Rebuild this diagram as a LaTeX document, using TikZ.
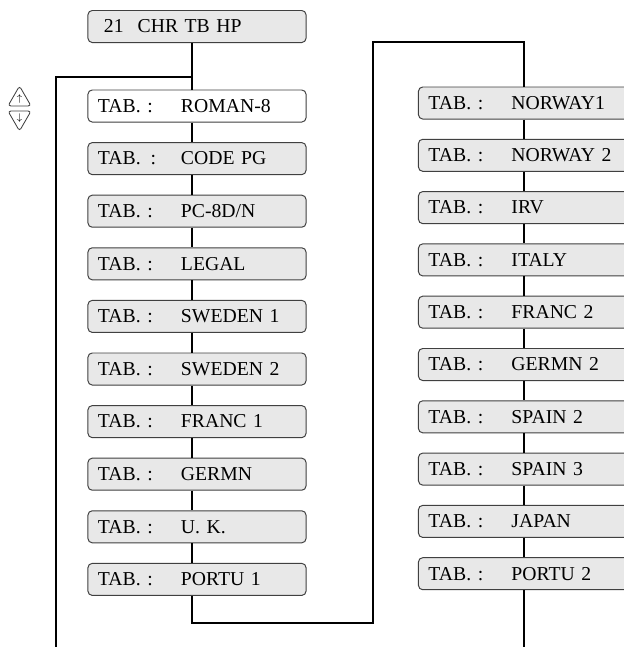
\documentclass[tikz,border=0pt]{standalone}
\usepackage{fontspec}
\setmainfont{Liberation Serif}
\usepackage{xcolor}
\usepackage{tikz}
\usetikzlibrary{shapes.geometric}
\definecolor{keygray}{gray}{0.25}
\definecolor{boxgray}{gray}{0.91}
\newcommand{\tabentry}[2][TAB. :]{\makebox[2.075cm][l]{#1}#2}

\begin{document}
\begin{tikzpicture}[x=0.025cm,y=-0.025cm,
    menubox/.style={rectangle,rounded corners=3pt,draw=keygray,line width=0.7pt,fill=boxgray,
      text width=4.95cm,inner xsep=0.25cm,inner ysep=0pt,minimum height=0.8cm,align=left,
      font=\fontsize{14}{16}\selectfont},
    link/.style={line width=1.6pt,draw=black},
    keytri/.style={regular polygon,regular polygon sides=3,draw=keygray,line width=0.6pt,
      rounded corners=2pt,minimum size=0.665cm,inner sep=0pt,font=\scriptsize}]
        \clip (0,0) rectangle (624,647);
        % menu title and the two columns of tables
        \node[menubox] (hdr) at (197,26.5) {\hspace{0.15cm}21\hspace{0.35cm}CHR TB HP};
        \node[menubox,fill=white] (l1) at (197,106) {\tabentry{ROMAN-8}};
        \node[menubox] (l2) at (197,158.6) {\tabentry[TAB.\enspace:]{CODE PG}};
        \node[menubox] (l3) at (197,211.2) {\tabentry{PC-8D/N}};
        \node[menubox] (l4) at (197,263.8) {\tabentry{LEGAL}};
        \node[menubox] (l5) at (197,316.4) {\tabentry{SWEDEN 1}};
        \node[menubox] (l6) at (197,369) {\tabentry{SWEDEN 2}};
        \node[menubox] (l7) at (197,421.6) {\tabentry{FRANC 1}};
        \node[menubox] (l8) at (197,474.2) {\tabentry{GERMN}};
        \node[menubox] (l9) at (197,526.8) {\tabentry{U. K.}};
        \node[menubox] (l10) at (197,579.4) {\tabentry{PORTU 1}};
        \node[menubox] (r1) at (527.5,103) {\tabentry{NORWAY1}};
        \node[menubox] (r2) at (527.5,155.3) {\tabentry{NORWAY 2}};
        \node[menubox] (r3) at (527.5,207.6) {\tabentry{IRV}};
        \node[menubox] (r4) at (527.5,259.9) {\tabentry{ITALY}};
        \node[menubox] (r5) at (527.5,312.2) {\tabentry{FRANC 2}};
        \node[menubox] (r6) at (527.5,364.5) {\tabentry{GERMN 2}};
        \node[menubox] (r7) at (527.5,416.8) {\tabentry{SPAIN 2}};
        \node[menubox] (r8) at (527.5,469.1) {\tabentry{SPAIN 3}};
        \node[menubox] (r9) at (527.5,521.4) {\tabentry{JAPAN}};
        \node[menubox] (r10) at (527.5,573.7) {\tabentry{PORTU 2}};
        % up / down keys
        \node[keytri] (up) at (19.5,99.3) {$\uparrow$};
        \node[keytri,shape border rotate=180] (down) at (19.5,117.7) {$\downarrow$};
        % bends of the wiring
        \coordinate (lj) at (192,77);
        \coordinate (lc) at (56,77);
        \coordinate (lend) at (56,647);
        \coordinate (lb) at (192,623);
        \coordinate (rb) at (373,623);
        \coordinate (rt) at (373,42);
        \coordinate (ru) at (524,42);
        \coordinate (rend) at (524,647);
        \draw[link] (hdr.south -| lj) -- (l1.north -| lj);
        \draw[link] (lj) -- (lc) -- (lend);
        \foreach \a/\b in {1/2,2/3,3/4,4/5,5/6,6/7,7/8,8/9,9/10} {
          \draw[link] (l\a.south -| lj) -- (l\b.north -| lj);
          \draw[link] (r\a.south -| ru) -- (r\b.north -| ru);
        }
        \draw[link] (l10.south -| lj) -- (lb) -- (rb) -- (rt) -- (ru) -- (r1.north -| ru);
        \draw[link] (r10.south -| ru) -- (rend);
      \end{tikzpicture}
\end{document}
